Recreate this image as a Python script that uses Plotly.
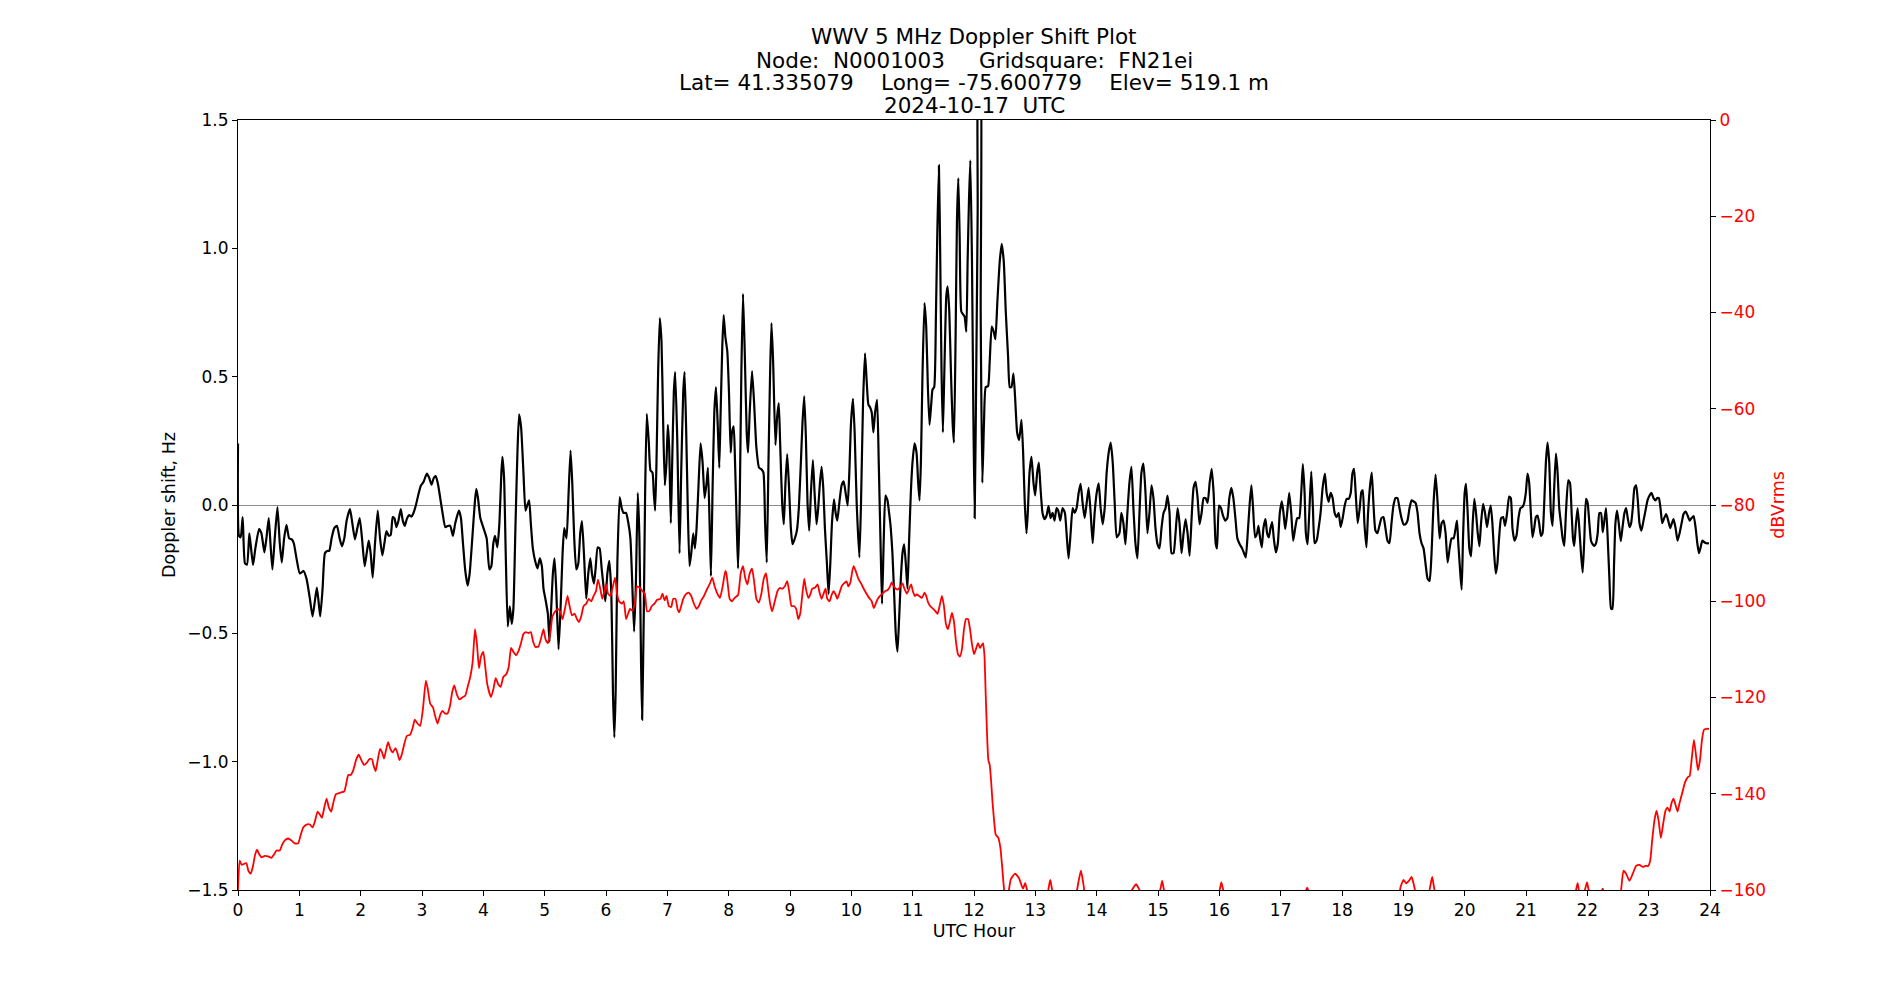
import plotly.graph_objects as go

# ---------------- Doppler shift (Hz), read per 4-hour block ----------------
dop_h_00 = [0, 0.016, 0.044, 0.076, 0.114, 0.147, 0.185, 0.213, 0.245, 0.283, 0.343, 0.381, 0.431, 0.463, 0.501,
            0.529, 0.561, 0.599, 0.643, 0.681, 0.714, 0.752, 0.790, 0.834, 0.877, 0.910, 0.954, 1.008, 1.068, 1.117,
            1.172, 1.215, 1.253, 1.286, 1.313, 1.341, 1.379, 1.417, 1.455, 1.488, 1.526, 1.569, 1.613, 1.657, 1.695,
            1.733, 1.771, 1.826, 1.864, 1.907, 1.946, 1.984, 2.022, 2.065, 2.098, 2.131, 2.163, 2.196, 2.234, 2.278,
            2.316, 2.354, 2.387, 2.420, 2.458, 2.490, 2.523, 2.550, 2.583, 2.616, 2.654, 2.687, 2.719, 2.752, 2.790,
            2.828, 2.861, 2.899, 2.943, 2.981, 3.025, 3.079, 3.117, 3.155, 3.193, 3.226, 3.264, 3.297, 3.335, 3.379,
            3.417, 3.460, 3.504, 3.542, 3.602, 3.635, 3.668, 3.706, 3.744, 3.777, 3.820, 3.864, 3.886, 3.913, 3.951]
dop_v_00 = [0.24, -0.12, -0.126, -0.047, -0.228, -0.232, -0.110, -0.169, -0.234, -0.169, -0.094, -0.110, -0.185,
            -0.130, -0.051, -0.149, -0.251, -0.130, -0.008, -0.149, -0.224, -0.130, -0.077, -0.130, -0.134, -0.149,
            -0.208, -0.267, -0.257, -0.287, -0.365, -0.434, -0.375, -0.322, -0.375, -0.434, -0.326, -0.188, -0.179,
            -0.179, -0.130, -0.090, -0.081, -0.130, -0.161, -0.130, -0.061, -0.016, -0.071, -0.134, -0.090, -0.051,
            -0.130, -0.238, -0.188, -0.139, -0.188, -0.283, -0.149, -0.022, -0.130, -0.196, -0.149, -0.102, -0.120,
            -0.116, -0.047, -0.051, -0.086, -0.061, -0.016, -0.061, -0.081, -0.055, -0.039, -0.045, -0.031, -0.002,
            0.043, 0.075, 0.090, 0.122, 0.106, 0.079, 0.106, 0.112, 0.077, 0.027, -0.031, -0.086, -0.082, -0.081,
            -0.120, -0.071, -0.022, -0.051, -0.149, -0.257, -0.314, -0.267, -0.130, 0.018, 0.063, 0.027, -0.051]

dop_h_04 = [4.054, 4.098, 4.131, 4.163, 4.191, 4.229, 4.262, 4.294, 4.311, 4.338, 4.365, 4.398, 4.431, 4.463, 4.490,
            4.523, 4.556, 4.583, 4.616, 4.654, 4.687, 4.714, 4.747, 4.774, 4.807, 4.845, 4.883, 4.921, 4.954, 4.981,
            5.019, 5.052, 5.079, 5.106, 5.134, 5.161, 5.188, 5.226, 5.259, 5.292, 5.319, 5.357, 5.390, 5.422, 5.450,
            5.482, 5.515, 5.548, 5.580, 5.608, 5.640, 5.678, 5.711, 5.744, 5.771, 5.804, 5.831, 5.864, 5.896, 5.929,
            5.962, 5.989, 6.022, 6.054, 6.087, 6.114, 6.136, 6.158, 6.185, 6.223, 6.256, 6.289, 6.327, 6.365, 6.398,
            6.425, 6.458, 6.485, 6.518, 6.545, 6.572, 6.589, 6.616, 6.638, 6.665, 6.698, 6.725, 6.758, 6.779, 6.801,
            6.823, 6.850, 6.877, 6.905, 6.932, 6.959, 6.986, 7.008, 7.030, 7.057, 7.079, 7.106, 7.128, 7.161, 7.199,
            7.226, 7.259, 7.281, 7.308, 7.335, 7.362, 7.390, 7.422, 7.450, 7.477, 7.510, 7.542, 7.575, 7.608, 7.640,
            7.662, 7.689, 7.711, 7.738, 7.766, 7.793, 7.820, 7.847, 7.869, 7.896, 7.918, 7.946, 7.978]
dop_v_04 = [-0.130, -0.251, -0.238, -0.149, -0.120, -0.165, -0.071, 0.126, 0.188, 0.106, -0.188, -0.473, -0.395,
            -0.463, -0.404, -0.090, 0.204, 0.353, 0.302, 0.126, -0.022, -0.002, 0.018, -0.071, -0.169, -0.218,
            -0.247, -0.208, -0.238, -0.326, -0.375, -0.424, -0.532, -0.404, -0.267, -0.208, -0.326, -0.562, -0.404,
            -0.188, -0.090, -0.130, 0.047, 0.212, 0.086, -0.130, -0.251, -0.228, -0.110, -0.063, -0.188, -0.365,
            -0.267, -0.208, -0.267, -0.306, -0.247, -0.165, -0.169, -0.247, -0.322, -0.375, -0.267, -0.218, -0.346,
            -0.738, -0.905, -0.719, -0.228, 0.031, -0.012, -0.031, -0.031, -0.071, -0.130, -0.287, -0.493, -0.326,
            0.047, -0.130, -0.620, -0.836, -0.424, 0.047, 0.355, 0.243, 0.135, 0.126, 0.047, -0.022, 0.165, 0.518,
            0.728, 0.636, 0.322, 0.077, 0.165, 0.312, 0.224, -0.071, 0.165, 0.440, 0.518, 0.263, -0.188, 0.126,
            0.440, 0.518, 0.283, -0.031, -0.238, -0.188, -0.110, -0.169, -0.090, 0.086, 0.240, 0.165, 0.027, 0.086,
            0.145, -0.071, -0.277, 0.067, 0.361, 0.459, 0.322, 0.145, 0.361, 0.617, 0.740, 0.656, 0.597]

dop_h_08 = [8.005, 8.033, 8.054, 8.082, 8.104, 8.131, 8.153, 8.180, 8.207, 8.234, 8.262, 8.294, 8.316, 8.343, 8.381,
            8.414, 8.452, 8.496, 8.534, 8.567, 8.594, 8.621, 8.649, 8.676, 8.698, 8.725, 8.763, 8.790, 8.817, 8.839,
            8.872, 8.899, 8.926, 8.954, 8.981, 9.014, 9.041, 9.079, 9.112, 9.144, 9.177, 9.204, 9.232, 9.259, 9.286,
            9.313, 9.341, 9.373, 9.401, 9.433, 9.460, 9.488, 9.515, 9.542, 9.569, 9.602, 9.629, 9.657, 9.684, 9.717,
            9.744, 9.771, 9.804, 9.842, 9.875, 9.907, 9.940, 9.967, 9.995, 10.027, 10.054, 10.087, 10.131, 10.158,
            10.191, 10.223, 10.251, 10.278, 10.305, 10.332, 10.360, 10.387, 10.420, 10.447, 10.480, 10.501, 10.529,
            10.556, 10.589, 10.616, 10.643, 10.670, 10.698, 10.725, 10.752, 10.779, 10.807, 10.834, 10.861, 10.888,
            10.916, 10.943, 10.970, 10.997, 11.030, 11.063, 11.090, 11.112, 11.134, 11.161, 11.193, 11.221, 11.248,
            11.275, 11.302, 11.324, 11.351, 11.379, 11.401, 11.428, 11.450, 11.471, 11.493, 11.520, 11.548, 11.569,
            11.597, 11.624, 11.651, 11.673, 11.700, 11.722, 11.744, 11.766, 11.793, 11.820, 11.847, 11.875, 11.896,
            11.918, 11.940, 11.967, 11.989, 12.011, 12.038, 12.060, 12.076, 12.098]
dop_v_08 = [0.440, 0.204, 0.283, 0.306, 0.165, -0.071, -0.247, 0.008, 0.518, 0.823, 0.597, 0.283, 0.204, 0.361,
            0.522, 0.401, 0.224, 0.145, 0.139, 0.126, -0.071, -0.224, 0.165, 0.518, 0.709, 0.558, 0.234, 0.342,
            0.397, 0.243, 0.008, -0.075, 0.086, 0.198, 0.086, -0.090, -0.153, -0.130, -0.100, -0.012, 0.165, 0.322,
            0.424, 0.263, 0.008, -0.100, 0.047, 0.175, 0.047, -0.075, -0.012, 0.086, 0.149, 0.067, -0.090, -0.228,
            -0.346, -0.228, -0.071, 0.022, -0.031, -0.061, 0.008, 0.077, 0.092, 0.047, -0.002, 0.126, 0.322, 0.414,
            0.283, 0.008, -0.204, 0.008, 0.401, 0.591, 0.479, 0.391, 0.381, 0.361, 0.283, 0.361, 0.410, 0.165,
            -0.188, -0.385, -0.130, 0.037, 0.018, -0.031, -0.090, -0.188, -0.346, -0.503, -0.571, -0.444, -0.287,
            -0.188, -0.153, -0.228, -0.326, -0.130, 0.047, 0.165, 0.240, 0.204, 0.086, 0.018, 0.165, 0.518, 0.787,
            0.695, 0.459, 0.312, 0.391, 0.450, 0.459, 0.734, 1.049, 1.323, 0.950, 0.518, 0.283, 0.558, 0.813, 0.852,
            0.754, 0.518, 0.322, 0.243, 0.656, 1.107, 1.274, 1.049, 0.754, 0.744, 0.734, 0.675, 0.950, 1.186, 1.343,
            0.950, 0.361, -0.051, 0.558, 1.147, 1.8, 1.8]

dop_h_12 = [12.109, 12.136, 12.163, 12.191, 12.229, 12.256, 12.289, 12.322, 12.349, 12.381, 12.420, 12.452, 12.485,
            12.518, 12.556, 12.583, 12.610, 12.643, 12.670, 12.703, 12.736, 12.774, 12.801, 12.828, 12.856, 12.877,
            12.905, 12.937, 12.970, 12.997, 13.030, 13.057, 13.084, 13.117, 13.150, 13.183, 13.215, 13.248, 13.281,
            13.313, 13.346, 13.373, 13.406, 13.444, 13.482, 13.515, 13.542, 13.575, 13.608, 13.640, 13.673, 13.706,
            13.738, 13.771, 13.804, 13.837, 13.869, 13.902, 13.935, 13.967, 14.000, 14.033, 14.065, 14.098, 14.131,
            14.163, 14.196, 14.229, 14.262, 14.294, 14.327, 14.371, 14.403, 14.436, 14.469, 14.501, 14.534, 14.567,
            14.599, 14.632, 14.665, 14.698, 14.730, 14.763, 14.796, 14.828, 14.861, 14.894, 14.926, 14.959, 14.992,
            15.025, 15.057, 15.090, 15.123, 15.155, 15.188, 15.221, 15.253, 15.286, 15.319, 15.351, 15.384, 15.417,
            15.450, 15.482, 15.515, 15.548, 15.580, 15.613, 15.646, 15.678, 15.711, 15.744, 15.777, 15.809, 15.842,
            15.875, 15.907, 15.940, 15.962]
dop_v_12 = [0.754, 0.086, 0.322, 0.459, 0.463, 0.558, 0.695, 0.675, 0.646, 0.793, 0.950, 1.017, 0.950, 0.754, 0.577,
            0.459, 0.459, 0.512, 0.420, 0.283, 0.253, 0.332, 0.204, 0.008, -0.110, -0.031, 0.126, 0.188, 0.086,
            0.037, 0.126, 0.165, 0.067, -0.031, -0.055, -0.041, -0.004, -0.051, -0.031, -0.061, -0.012, -0.022,
            -0.061, -0.012, -0.031, -0.130, -0.208, -0.110, -0.012, -0.031, -0.012, 0.047, 0.082, 0.008, -0.051,
            0.008, 0.067, -0.031, -0.149, -0.031, 0.047, 0.084, -0.012, -0.075, -0.012, 0.126, 0.204, 0.243, 0.165,
            0.008, -0.126, -0.110, -0.031, -0.071, -0.153, -0.031, 0.086, 0.149, -0.012, -0.149, -0.208, -0.031,
            0.126, 0.161, 0.047, -0.110, -0.031, 0.077, 0.027, -0.090, -0.153, -0.169, -0.090, -0.031, -0.012, 0.037,
            -0.031, -0.188, -0.188, -0.110, -0.012, -0.071, -0.188, -0.110, -0.055, -0.110, -0.198, -0.051, 0.067,
            0.090, 0.027, -0.075, -0.031, 0.027, 0.027, 0.008, 0.086, 0.141, 0.047, -0.149, -0.169]

dop_h_16 = [15.995, 16.027, 16.060, 16.098, 16.131, 16.163, 16.196, 16.229, 16.262, 16.294, 16.332, 16.371, 16.403,
            16.431, 16.463, 16.496, 16.523, 16.550, 16.583, 16.616, 16.638, 16.665, 16.692, 16.719, 16.752, 16.779,
            16.807, 16.834, 16.861, 16.888, 16.921, 16.954, 16.986, 17.019, 17.046, 17.074, 17.106, 17.139, 17.172,
            17.204, 17.237, 17.270, 17.302, 17.335, 17.362, 17.390, 17.411, 17.439, 17.466, 17.499, 17.526, 17.553,
            17.586, 17.619, 17.651, 17.684, 17.722, 17.749, 17.782, 17.815, 17.847, 17.880, 17.913, 17.946, 17.978,
            18.011, 18.044, 18.076, 18.109, 18.142, 18.169, 18.196, 18.223, 18.256, 18.289, 18.316, 18.338, 18.365,
            18.398, 18.425, 18.458, 18.485, 18.512, 18.545, 18.578, 18.610, 18.643, 18.676, 18.708, 18.741, 18.774,
            18.807, 18.839, 18.872, 18.905, 18.937, 18.970, 19.003, 19.035, 19.068, 19.101, 19.134, 19.166, 19.199,
            19.232, 19.264, 19.297, 19.330, 19.362, 19.395, 19.428, 19.460, 19.493, 19.526, 19.559, 19.591, 19.624,
            19.657, 19.689, 19.722, 19.755, 19.787, 19.820, 19.853, 19.875, 19.896, 19.929, 19.951]
dop_v_16 = [-0.002, -0.012, -0.041, -0.061, -0.051, 0.027, 0.067, 0.027, -0.051, -0.130, -0.153, -0.169, -0.188,
            -0.204, -0.110, 0.008, 0.077, -0.012, -0.126, -0.110, -0.081, -0.130, -0.165, -0.090, -0.055, -0.110,
            -0.126, -0.090, -0.067, -0.130, -0.185, -0.149, -0.031, 0.014, -0.031, -0.094, -0.031, 0.047, -0.031,
            -0.139, -0.090, -0.051, -0.051, 0.047, 0.159, 0.047, -0.110, -0.153, -0.031, 0.130, -0.012, -0.149,
            -0.139, -0.090, -0.031, 0.067, 0.122, 0.047, 0.012, 0.047, 0.027, -0.031, -0.047, -0.031, -0.086, -0.051,
            -0.002, 0.024, 0.024, 0.047, 0.122, 0.141, 0.047, -0.071, -0.012, 0.051, 0.057, -0.071, -0.165, -0.031,
            0.077, 0.126, 0.008, -0.100, -0.110, -0.081, -0.051, -0.047, -0.090, -0.139, -0.149, -0.071, -0.002,
            0.027, 0.027, -0.012, -0.051, -0.075, -0.075, -0.061, -0.012, 0.018, 0.014, 0.008, -0.031, -0.110,
            -0.149, -0.169, -0.228, -0.287, -0.296, -0.188, 0.008, 0.118, 0.008, -0.130, -0.071, -0.061, -0.110,
            -0.224, -0.169, -0.130, -0.130, -0.090, -0.061, -0.149, -0.267, -0.330]

dop_h_20 = [19.973, 20.000, 20.022, 20.049, 20.076, 20.104, 20.131, 20.158, 20.185, 20.213, 20.240, 20.267, 20.300,
            20.332, 20.365, 20.398, 20.425, 20.452, 20.480, 20.507, 20.534, 20.561, 20.594, 20.627, 20.659, 20.692,
            20.725, 20.752, 20.779, 20.812, 20.845, 20.877, 20.910, 20.943, 20.970, 20.997, 21.025, 21.052, 21.079,
            21.106, 21.134, 21.161, 21.188, 21.215, 21.243, 21.270, 21.297, 21.324, 21.351, 21.379, 21.406, 21.433,
            21.460, 21.488, 21.515, 21.542, 21.569, 21.597, 21.624, 21.651, 21.689, 21.717, 21.744, 21.766, 21.787,
            21.815, 21.842, 21.869, 21.896, 21.924, 21.951, 21.978, 22.005, 22.033, 22.060, 22.087, 22.114, 22.142,
            22.169, 22.196, 22.223, 22.251, 22.278, 22.305, 22.332, 22.360, 22.387, 22.409, 22.436, 22.458, 22.485,
            22.512, 22.545, 22.572, 22.605, 22.632, 22.659, 22.687, 22.714, 22.741, 22.768, 22.796, 22.823, 22.850,
            22.883, 22.916, 22.948, 22.981, 23.014, 23.046, 23.079, 23.112, 23.139, 23.166, 23.193, 23.221, 23.253,
            23.286, 23.319, 23.351, 23.379, 23.406, 23.439, 23.471, 23.504, 23.537, 23.569, 23.602, 23.635, 23.668,
            23.700, 23.733, 23.766, 23.793, 23.820, 23.847, 23.875, 23.907, 23.940, 23.984]
dop_v_20 = [-0.130, 0.047, 0.082, -0.031, -0.169, -0.200, -0.071, 0.024, -0.031, -0.110, -0.161, -0.071, 0.004,
            -0.031, -0.086, -0.031, -0.002, -0.071, -0.188, -0.267, -0.228, -0.130, -0.051, -0.047, -0.081, -0.031,
            0.033, 0.027, -0.090, -0.139, -0.120, -0.051, -0.012, -0.008, 0.008, 0.047, 0.122, 0.086, -0.031, -0.126,
            -0.090, -0.047, -0.041, -0.071, -0.120, -0.110, 0.008, 0.165, 0.243, 0.165, -0.031, -0.081, 0.067, 0.200,
            0.126, -0.012, -0.071, -0.130, -0.159, -0.031, 0.096, 0.086, -0.031, -0.130, -0.159, -0.071, -0.012,
            -0.090, -0.188, -0.263, -0.130, 0.024, 0.008, -0.071, -0.139, -0.153, -0.159, -0.149, -0.110, -0.031,
            -0.031, -0.106, -0.061, -0.012, -0.130, -0.287, -0.404, -0.404, -0.228, -0.071, -0.022, -0.071, -0.141,
            -0.090, -0.031, -0.012, -0.051, -0.086, -0.071, -0.012, 0.067, 0.077, 0.018, -0.071, -0.100, -0.061,
            -0.022, 0.018, 0.037, 0.047, 0.027, 0.018, 0.027, 0.027, -0.012, -0.071, -0.051, -0.035, -0.061, -0.090,
            -0.071, -0.055, -0.090, -0.139, -0.110, -0.071, -0.035, -0.026, -0.041, -0.061, -0.051, -0.043, -0.090,
            -0.149, -0.188, -0.165, -0.139, -0.145, -0.149, -0.149]

# ---------------- Received level (dBVrms) ----------------
pwr_h_00 = [0, 0.027, 0.060, 0.093, 0.136, 0.169, 0.207, 0.245, 0.278, 0.311, 0.343, 0.387, 0.436, 0.490, 0.545,
            0.583, 0.627, 0.681, 0.719, 0.763, 0.817, 0.872, 0.926, 0.981, 1.019, 1.063, 1.117, 1.172, 1.215, 1.253,
            1.297, 1.335, 1.368, 1.406, 1.444, 1.482, 1.520, 1.553, 1.597, 1.662, 1.733, 1.760, 1.798, 1.837, 1.880,
            1.924, 1.967, 2.011, 2.054, 2.098, 2.142, 2.185, 2.207, 2.245, 2.278, 2.316, 2.349, 2.381, 2.414, 2.447,
            2.485, 2.523, 2.567, 2.599, 2.632, 2.670, 2.708, 2.752, 2.807, 2.850, 2.883, 2.926, 2.970, 3.014, 3.063,
            3.095, 3.134, 3.177, 3.215, 3.253, 3.297, 3.335, 3.373, 3.417, 3.460, 3.493, 3.526, 3.569, 3.613, 3.657,
            3.706, 3.744, 3.787, 3.826, 3.864, 3.896, 3.929, 3.962]
pwr_v_00 = [-160, -153.9, -154.8, -154.6, -154.4, -156.0, -156.6, -155.0, -152.7, -151.6, -152.5, -153.2, -152.9,
            -153.0, -153.3, -152.7, -151.8, -151.8, -150.6, -149.7, -149.3, -149.7, -150.3, -150.3, -148.7, -147.0,
            -146.4, -146.4, -147.0, -145.8, -143.7, -144.3, -145.0, -142.9, -141.0, -142.9, -143.7, -141.9, -140.1,
            -139.8, -139.5, -138.2, -136.1, -136.1, -135.1, -133.0, -131.9, -133.0, -134.0, -133.6, -132.8, -132.8,
            -134.0, -135.3, -133.0, -130.7, -131.4, -132.7, -130.9, -129.3, -130.7, -131.4, -130.5, -131.5, -133.0,
            -131.9, -129.8, -128.0, -127.7, -126.2, -124.6, -125.4, -125.9, -122.5, -116.5, -118.3, -121.3, -122.0,
            -123.9, -125.4, -123.6, -122.8, -123.3, -123.3, -121.5, -118.8, -117.5, -119.4, -120.4, -120.0, -119.6,
            -117.8, -115.7, -112.6, -105.8, -108.9, -113.9, -111.5]

pwr_h_04 = [4.000, 4.027, 4.065, 4.125, 4.163, 4.202, 4.245, 4.283, 4.327, 4.371, 4.414, 4.452, 4.490, 4.534, 4.578,
            4.610, 4.654, 4.692, 4.736, 4.774, 4.812, 4.850, 4.899, 4.943, 4.981, 5.014, 5.052, 5.090, 5.128, 5.172,
            5.215, 5.253, 5.292, 5.330, 5.373, 5.406, 5.444, 5.488, 5.526, 5.559, 5.597, 5.635, 5.678, 5.717, 5.760,
            5.798, 5.837, 5.869, 5.907, 5.940, 5.973, 6.000, 6.033, 6.071, 6.104, 6.147, 6.180, 6.213, 6.256, 6.289,
            6.327, 6.360, 6.392, 6.431, 6.469, 6.507, 6.550, 6.594, 6.632, 6.670, 6.708, 6.747, 6.790, 6.834, 6.888,
            6.921, 6.954, 6.986, 7.025, 7.063, 7.095, 7.134, 7.166, 7.193, 7.226, 7.259, 7.297, 7.346, 7.390, 7.433,
            7.477, 7.515, 7.553, 7.597, 7.651, 7.695, 7.733, 7.771, 7.815, 7.858, 7.902, 7.946]
pwr_v_04 = [-110.5, -113.1, -117.3, -119.9, -118.3, -116.0, -117.3, -117.8, -115.7, -115.2, -113.6, -109.7, -110.5,
            -111.2, -110.2, -108.9, -106.8, -106.4, -106.6, -106.4, -108.4, -109.5, -109.4, -107.6, -105.8, -107.9,
            -108.7, -106.8, -103.1, -102.1, -101.6, -102.1, -103.7, -101.6, -98.9, -101.0, -102.9, -102.6, -103.7,
            -104.3, -103.1, -101.0, -100.5, -99.5, -100.0, -98.9, -97.9, -95.5, -97.4, -99.5, -97.9, -96.5, -98.4,
            -98.9, -97.4, -95.1, -98.4, -100.0, -100.5, -100.0, -103.7, -102.6, -101.6, -102.0, -100.5, -96.9, -97.2,
            -97.9, -98.4, -102.1, -102.0, -101.0, -100.5, -99.7, -99.5, -98.4, -99.8, -98.9, -101.0, -101.2, -99.5,
            -99.5, -101.6, -102.3, -101.0, -99.5, -98.6, -98.2, -98.9, -100.5, -101.6, -101.0, -99.8, -98.9, -97.4,
            -96.3, -95.1, -96.9, -98.4, -99.3, -96.9, -93.7]

pwr_h_08 = [7.962, 7.989, 8.016, 8.054, 8.098, 8.153, 8.196, 8.234, 8.272, 8.305, 8.343, 8.381, 8.414, 8.452, 8.490,
            8.534, 8.572, 8.610, 8.643, 8.676, 8.708, 8.752, 8.796, 8.834, 8.872, 8.916, 8.954, 8.986, 9.025, 9.063,
            9.101, 9.134, 9.166, 9.199, 9.232, 9.259, 9.297, 9.330, 9.362, 9.406, 9.450, 9.482, 9.515, 9.548, 9.580,
            9.608, 9.646, 9.678, 9.711, 9.744, 9.771, 9.804, 9.842, 9.880, 9.924, 9.951, 9.984, 10.016, 10.038,
            10.071, 10.114, 10.158, 10.202, 10.245, 10.289, 10.332, 10.365, 10.398, 10.431, 10.469, 10.507, 10.550,
            10.589, 10.621, 10.659, 10.692, 10.725, 10.757, 10.801, 10.834, 10.866, 10.905, 10.943, 10.975, 11.003,
            11.035, 11.068, 11.106, 11.150, 11.193, 11.221, 11.253, 11.292, 11.335, 11.373, 11.406, 11.439, 11.477,
            11.510, 11.542, 11.575, 11.608, 11.640, 11.673, 11.706, 11.738, 11.771, 11.804, 11.837, 11.869, 11.902,
            11.935, 11.967, 12.000, 12.033, 12.065, 12.098]
pwr_v_08 = [-94.2, -96.9, -99.5, -100.0, -99.3, -98.7, -94.2, -92.7, -95.3, -96.5, -94.2, -93.2, -95.8, -99.5,
            -100.3, -98.4, -95.3, -94.2, -97.4, -100.5, -102.1, -100.0, -97.9, -97.2, -97.4, -96.9, -95.8, -97.9,
            -101.0, -101.0, -101.6, -103.7, -102.6, -98.9, -95.3, -97.4, -99.3, -98.6, -97.4, -97.2, -96.5, -98.2,
            -99.5, -98.4, -97.4, -99.5, -100.0, -98.7, -97.9, -98.6, -99.5, -98.4, -96.9, -96.3, -95.9, -96.9, -96.1,
            -93.7, -92.7, -93.7, -95.3, -96.3, -97.4, -98.4, -99.3, -100.0, -101.4, -100.5, -99.5, -98.9, -98.4,
            -97.9, -97.7, -97.2, -96.1, -96.9, -97.4, -97.6, -96.9, -96.3, -97.4, -98.4, -97.4, -96.5, -97.9, -98.9,
            -98.6, -98.9, -99.3, -98.2, -98.9, -100.3, -101.1, -101.6, -102.1, -102.6, -101.0, -98.9, -101.0, -104.7,
            -105.8, -104.2, -102.4, -104.2, -108.4, -111.0, -111.5, -109.9, -105.8, -103.7, -103.7, -105.8, -108.9,
            -111.0, -109.9, -108.7, -109.7]

pwr_h_12 = [12.114, 12.147, 12.169, 12.191, 12.213, 12.234, 12.256, 12.278, 12.300, 12.327, 12.354, 12.398, 12.431,
            12.458, 12.485, 12.507, 12.540, 12.599, 12.670, 12.736, 12.779, 12.801, 12.834, 12.872, 12.910, 13.008,
            13.183, 13.243, 13.302, 13.499, 13.662, 13.706, 13.744, 13.782, 13.826, 14.207, 14.534, 14.599, 14.643,
            14.687, 14.730, 14.970, 15.035, 15.068, 15.101, 15.166, 15.842, 15.995, 16.033, 16.071]
pwr_v_12 = [-109.4, -108.7, -111.0, -119.4, -127.7, -133.0, -134.0, -137.2, -141.4, -145.5, -148.5, -149.2, -151.3,
            -155.0, -159.2, -161.3, -162.3, -157.8, -156.6, -157.6, -159.2, -159.7, -158.5, -160.4, -161.8, -161.8,
            -161.3, -157.9, -161.3, -161.8, -160.7, -158.1, -156.0, -158.6, -161.3, -161.8, -160.7, -159.5, -158.8,
            -159.7, -160.7, -161.3, -160.0, -158.1, -160.2, -161.8, -161.8, -160.4, -158.4, -160.4]

pwr_h_16 = [16.125, 17.368, 17.433, 17.488, 18.905, 18.959, 19.003, 19.046, 19.090, 19.134, 19.177, 19.221, 19.395,
            19.439, 19.471, 19.504, 19.548, 19.940]
pwr_v_16 = [-161.8, -161.3, -159.5, -161.3, -161.5, -159.2, -157.9, -158.6, -158.1, -157.3, -159.2, -161.5, -161.5,
            -159.2, -157.3, -159.7, -161.5, -161.8]

pwr_h_20 = [21.760, 21.815, 21.842, 21.869, 21.951, 21.995, 22.033, 22.196, 22.251, 22.283, 22.523, 22.550, 22.589,
            22.632, 22.687, 22.741, 22.796, 22.850, 22.905, 22.948, 22.992, 23.025, 23.057, 23.095, 23.128, 23.161,
            23.199, 23.232, 23.275, 23.308, 23.341, 23.373, 23.406, 23.439, 23.471, 23.504, 23.548, 23.591, 23.635,
            23.668, 23.700, 23.738, 23.771, 23.804, 23.837, 23.869, 23.902, 23.940, 23.984]
pwr_v_20 = [-161.5, -160.0, -158.6, -160.2, -160.2, -158.4, -160.4, -161.3, -159.7, -161.3, -161.3, -160.0, -156.0,
            -156.6, -158.1, -156.6, -155.0, -154.8, -155.2, -155.0, -155.0, -153.9, -149.7, -145.5, -143.5, -145.5,
            -149.2, -146.6, -143.5, -142.9, -143.7, -141.9, -141.0, -142.4, -143.7, -141.9, -139.8, -137.7, -136.6,
            -136.3, -133.0, -128.8, -131.9, -135.1, -133.0, -128.8, -126.7, -126.5, -126.5]

# ---------------- text ----------------
title_lines = [
    "WWV 5 MHz Doppler Shift Plot",
    "Node:  N0001003     Gridsquare:  FN21ei",
    "Lat= 41.335079    Long= -75.600779    Elev= 519.1 m",
    "2024-10-17  UTC",
]
x_ticks = list(range(0, 25))
y_ticks = [-1.5, -1.0, -0.5, 0.0, 0.5, 1.0, 1.5]
y2_ticks = [-160, -140, -120, -100, -80, -60, -40, -20, 0]

dop_h = dop_h_00 + dop_h_04 + dop_h_08 + dop_h_12 + dop_h_16 + dop_h_20
dop_v = dop_v_00 + dop_v_04 + dop_v_08 + dop_v_12 + dop_v_16 + dop_v_20
pwr_h = pwr_h_00 + pwr_h_04 + pwr_h_08 + pwr_h_12 + pwr_h_16 + pwr_h_20
pwr_v = pwr_v_00 + pwr_v_04 + pwr_v_08 + pwr_v_12 + pwr_v_16 + pwr_v_20

FONT = "DejaVu Sans"
TICK = 17
LAB = 17.5

fig = go.Figure()
fig.add_trace(go.Scatter(x=dop_h, y=dop_v, mode="lines",
                         line=dict(color="black", width=2.2, shape="spline", smoothing=0.5),
                         showlegend=False, hoverinfo="skip"))
fig.add_trace(go.Scatter(x=pwr_h, y=pwr_v, mode="lines", yaxis="y2",
                         line=dict(color="red", width=1.8, shape="spline", smoothing=0.5),
                         showlegend=False, hoverinfo="skip"))

title_y = [1.1089, 1.0778, 1.0490, 1.0190]
for txt, yy in zip(title_lines, title_y):
    fig.add_annotation(text=txt.replace(" ", "\u00a0"), x=0.5, y=yy, xref="paper", yref="paper",
                       xanchor="center", yanchor="middle", showarrow=False,
                       font=dict(family=FONT, size=21.5, color="black"))

fig.update_layout(
    width=1900, height=1000,
    margin=dict(l=238, r=190, t=120, b=110),
    paper_bgcolor="white", plot_bgcolor="white",
    font=dict(family=FONT, size=TICK, color="black"),
    xaxis=dict(range=[0, 24], tickvals=x_ticks, ticktext=[str(t) for t in x_ticks],
               ticks="outside", ticklen=5, tickwidth=1, tickcolor="black",
               tickfont=dict(family=FONT, size=TICK),
               showline=True, linecolor="black", linewidth=1, mirror=True,
               showgrid=False, zeroline=False,
               title=dict(text="UTC Hour", font=dict(family=FONT, size=LAB), standoff=5)),
    yaxis=dict(range=[-1.5, 1.5], tickvals=y_ticks, tickformat=".1f",
               ticks="outside", ticklen=5, tickwidth=1, tickcolor="black",
               tickfont=dict(family=FONT, size=TICK),
               showline=True, linecolor="black", linewidth=1, mirror=False,
               showgrid=False, zeroline=True, zerolinecolor="#8c8c8c", zerolinewidth=1.3,
               title=dict(text="Doppler shift, Hz", font=dict(family=FONT, size=LAB), standoff=7)),
    yaxis2=dict(range=[-160, 0], tickvals=y2_ticks, overlaying="y", side="right",
                ticks="outside", ticklen=5, tickwidth=1, tickcolor="black",
                tickfont=dict(color="red", family=FONT, size=TICK),
                showline=True, linecolor="black", linewidth=1,
                showgrid=False, zeroline=False,
                title=dict(text="dBVrms", font=dict(family=FONT, size=LAB, color="red"), standoff=6)),
)

fig.write_html("out.html")
